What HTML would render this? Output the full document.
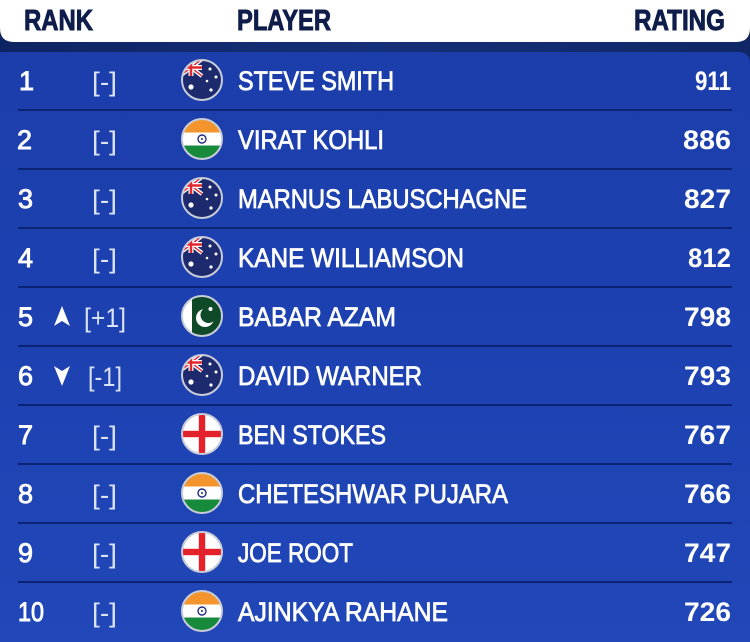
<!DOCTYPE html>
<html><head><meta charset="utf-8"><style>
html,body{margin:0;padding:0;background:#0f2460;}
svg{display:block;}
text{font-family:"Liberation Sans",sans-serif;}
</style></head><body>
<svg width="750" height="642" viewBox="0 0 750 642" xmlns="http://www.w3.org/2000/svg">
<defs>
<linearGradient id="bg" x1="0" y1="0" x2="0" y2="1">
<stop offset="0" stop-color="#1b3eab"/>
<stop offset="0.5" stop-color="#1d41b1"/>
<stop offset="1" stop-color="#2147b8"/>
</linearGradient>
<linearGradient id="band" x1="0" y1="0" x2="1" y2="0">
<stop offset="0" stop-color="#0e2462"/>
<stop offset="0.5" stop-color="#15307a"/>
<stop offset="1" stop-color="#0f2766"/>
</linearGradient>
<clipPath id="cc"><circle cx="0" cy="0" r="20"/></clipPath>
<g id="aus">
<g clip-path="url(#cc)">
<rect x="-20" y="-20" width="40" height="40" fill="#1e2a6e"/>
<g>
<line x1="-22" y1="-21" x2="0" y2="-4" stroke="#fff" stroke-width="4"/>
<line x1="-22" y1="-4" x2="0" y2="-21" stroke="#fff" stroke-width="4"/>
<line x1="-22" y1="-21" x2="0" y2="-4" stroke="#e0262f" stroke-width="1.4"/>
<line x1="-22" y1="-4" x2="0" y2="-21" stroke="#e0262f" stroke-width="1.4"/>
<line x1="-22" y1="-12.5" x2="0" y2="-12.5" stroke="#fff" stroke-width="5"/>
<line x1="-11" y1="-21" x2="-11" y2="-4" stroke="#fff" stroke-width="5"/>
<line x1="-22" y1="-12.5" x2="0" y2="-12.5" stroke="#e0262f" stroke-width="2.5"/>
<line x1="-11" y1="-21" x2="-11" y2="-4" stroke="#e0262f" stroke-width="2.5"/>
</g>
<circle cx="-11" cy="7" r="2.6" fill="#fff"/>
<circle cx="8" cy="-11" r="1.5" fill="#fff"/>
<circle cx="14" cy="-3" r="1.5" fill="#fff"/>
<circle cx="5" cy="1" r="1.3" fill="#fff"/>
<circle cx="9" cy="10" r="1.6" fill="#fff"/>
</g>
<circle r="20" fill="none" stroke="#c9cdd8" stroke-width="2"/>
</g>
<g id="ind">
<g clip-path="url(#cc)">
<rect x="-20" y="-20" width="40" height="14" fill="#f3952c"/>
<rect x="-20" y="-6.5" width="40" height="13" fill="#fff"/>
<rect x="-20" y="6.5" width="40" height="14" fill="#178a3c"/>
<circle r="4" fill="none" stroke="#1e2d82" stroke-width="1.4"/>
<circle r="1" fill="#1e2d82"/>
</g>
<circle r="20" fill="none" stroke="#c9cdd8" stroke-width="2"/>
</g>
<g id="pak">
<g clip-path="url(#cc)">
<rect x="-20" y="-20" width="40" height="40" fill="#0f4a28"/>
<rect x="-20" y="-20" width="10" height="40" fill="#fff"/>
<circle cx="3" cy="2" r="9" fill="#fff"/>
<circle cx="6.5" cy="-1" r="8" fill="#0f4a28"/>
<circle cx="8.5" cy="-7" r="2" fill="#fff"/>
</g>
<circle r="20" fill="none" stroke="#c9cdd8" stroke-width="2"/>
</g>
<g id="eng">
<g clip-path="url(#cc)">
<rect x="-20" y="-20" width="40" height="40" fill="#fff"/>
<rect x="-3.2" y="-20" width="6.4" height="40" fill="#e3212b"/>
<rect x="-20" y="-3.2" width="40" height="6.4" fill="#e3212b"/>
</g>
<circle r="20" fill="none" stroke="#c9cdd8" stroke-width="2"/>
</g>
</defs>

<rect x="0" y="0" width="750" height="642" fill="#0f2460"/>
<rect x="0" y="40" width="750" height="20" fill="url(#band)"/>
<path d="M0,52 L738,52 Q750,52 750,64 L750,642 L0,642 Z" fill="url(#bg)"/>
<path d="M0,0 L750,0 L750,28 Q750,42 736,42 L14,42 Q0,42 0,28 Z" fill="#ffffff"/>

<g font-weight="bold" font-size="29" fill="#0f1d4b" stroke="#0f1d4b" stroke-width="0.9">
<text x="24" y="30" textLength="69" lengthAdjust="spacingAndGlyphs">RANK</text>
<text x="237" y="30" textLength="94" lengthAdjust="spacingAndGlyphs">PLAYER</text>
<text x="634" y="30" textLength="91" lengthAdjust="spacingAndGlyphs">RATING</text>
</g>

<g stroke="#0b2372" stroke-width="2">
<line x1="18" y1="110" x2="732" y2="110"/>
<line x1="18" y1="169" x2="732" y2="169"/>
<line x1="18" y1="228" x2="732" y2="228"/>
<line x1="18" y1="287" x2="732" y2="287"/>
<line x1="18" y1="346" x2="732" y2="346"/>
<line x1="18" y1="405" x2="732" y2="405"/>
<line x1="18" y1="464" x2="732" y2="464"/>
<line x1="18" y1="523" x2="732" y2="523"/>
<line x1="18" y1="582" x2="732" y2="582"/>
</g>

<g fill="#ffffff" font-size="27" stroke="#ffffff" stroke-width="0.9">
<text x="19" y="90">1</text>
<text x="17" y="149">2</text>
<text x="18" y="208">3</text>
<text x="18" y="267">4</text>
<text x="18" y="326">5</text>
<text x="18" y="385">6</text>
<text x="18" y="444">7</text>
<text x="18" y="503">8</text>
<text x="18" y="562">9</text>
<text x="18" y="621" textLength="26" lengthAdjust="spacingAndGlyphs">10</text>
</g>

<g fill="#dbe3f6" font-size="27">
<text x="92" y="91" textLength="25" lengthAdjust="spacingAndGlyphs">[-]</text>
<text x="92" y="150" textLength="25" lengthAdjust="spacingAndGlyphs">[-]</text>
<text x="92" y="209" textLength="25" lengthAdjust="spacingAndGlyphs">[-]</text>
<text x="92" y="268" textLength="25" lengthAdjust="spacingAndGlyphs">[-]</text>
<text x="84" y="327" textLength="42" lengthAdjust="spacingAndGlyphs">[+1]</text>
<text x="88" y="386" textLength="34" lengthAdjust="spacingAndGlyphs">[-1]</text>
<text x="92" y="445" textLength="25" lengthAdjust="spacingAndGlyphs">[-]</text>
<text x="92" y="504" textLength="25" lengthAdjust="spacingAndGlyphs">[-]</text>
<text x="92" y="563" textLength="25" lengthAdjust="spacingAndGlyphs">[-]</text>
<text x="92" y="622" textLength="25" lengthAdjust="spacingAndGlyphs">[-]</text>
</g>

<path d="M62,306 L70,326 L62,321 L54,326 Z" fill="#ffffff"/>
<path d="M62,386 L70,366 L62,371 L54,366 Z" fill="#ffffff"/>

<use href="#aus" x="202" y="80"/>
<use href="#ind" x="202" y="139"/>
<use href="#aus" x="202" y="198"/>
<use href="#aus" x="202" y="257"/>
<use href="#pak" x="202" y="316"/>
<use href="#aus" x="202" y="375"/>
<use href="#eng" x="202" y="434"/>
<use href="#ind" x="202" y="493"/>
<use href="#eng" x="202" y="552"/>
<use href="#ind" x="202" y="611"/>

<g fill="#ffffff" font-size="27" stroke="#ffffff" stroke-width="0.8">
<text x="238" y="90" textLength="156" lengthAdjust="spacingAndGlyphs">STEVE SMITH</text>
<text x="238" y="149" textLength="146" lengthAdjust="spacingAndGlyphs">VIRAT KOHLI</text>
<text x="238" y="208" textLength="289" lengthAdjust="spacingAndGlyphs">MARNUS LABUSCHAGNE</text>
<text x="238" y="267" textLength="226" lengthAdjust="spacingAndGlyphs">KANE WILLIAMSON</text>
<text x="238" y="326" textLength="158" lengthAdjust="spacingAndGlyphs">BABAR AZAM</text>
<text x="238" y="385" textLength="184" lengthAdjust="spacingAndGlyphs">DAVID WARNER</text>
<text x="238" y="444" textLength="148" lengthAdjust="spacingAndGlyphs">BEN STOKES</text>
<text x="238" y="503" textLength="270" lengthAdjust="spacingAndGlyphs">CHETESHWAR PUJARA</text>
<text x="238" y="562" textLength="115" lengthAdjust="spacingAndGlyphs">JOE ROOT</text>
<text x="238" y="621" textLength="210" lengthAdjust="spacingAndGlyphs">AJINKYA RAHANE</text>
</g>

<g fill="#ffffff" font-size="27" font-weight="bold" text-anchor="end">
<text x="731" y="90" textLength="36" lengthAdjust="spacingAndGlyphs">911</text>
<text x="731" y="149" textLength="48" lengthAdjust="spacingAndGlyphs">886</text>
<text x="731" y="208" textLength="47" lengthAdjust="spacingAndGlyphs">827</text>
<text x="731" y="267" textLength="43" lengthAdjust="spacingAndGlyphs">812</text>
<text x="731" y="326" textLength="47" lengthAdjust="spacingAndGlyphs">798</text>
<text x="731" y="385" textLength="47" lengthAdjust="spacingAndGlyphs">793</text>
<text x="731" y="444" textLength="47" lengthAdjust="spacingAndGlyphs">767</text>
<text x="731" y="503" textLength="47" lengthAdjust="spacingAndGlyphs">766</text>
<text x="731" y="562" textLength="47" lengthAdjust="spacingAndGlyphs">747</text>
<text x="731" y="621" textLength="47" lengthAdjust="spacingAndGlyphs">726</text>
</g>
</svg>
</body></html>
